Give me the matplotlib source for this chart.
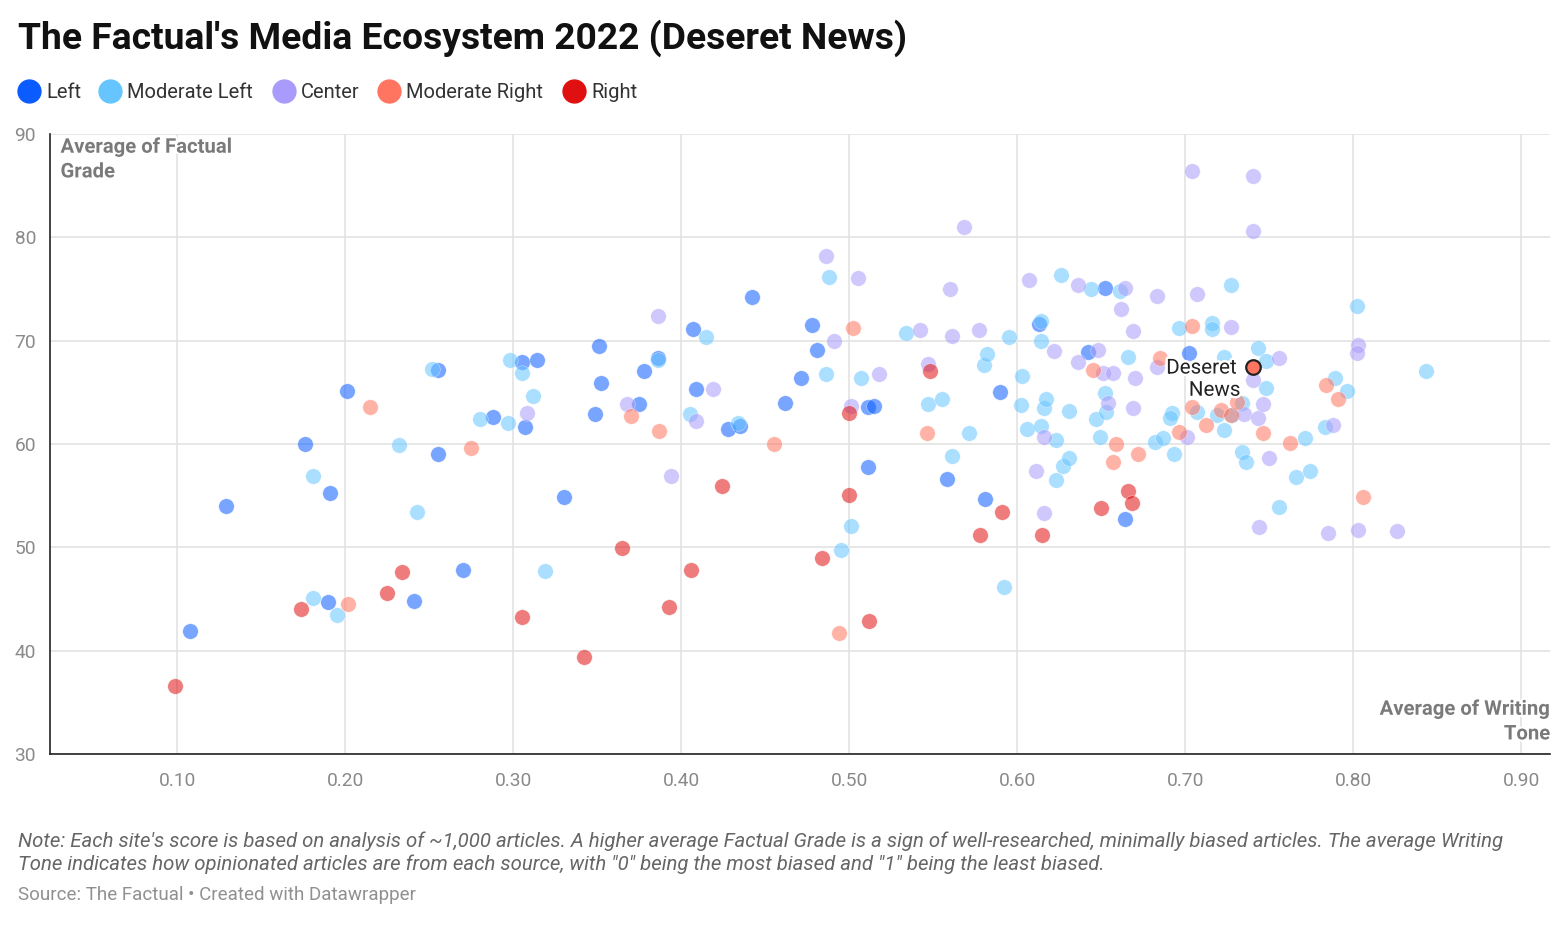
import matplotlib
matplotlib.use("Agg")
import matplotlib.pyplot as plt
import matplotlib.patheffects as pe
from matplotlib.lines import Line2D

plt.rcParams['font.family'] = ['Roboto', 'DejaVu Sans']

# ---------------- data ----------------
categories = ["Left", "Moderate Left", "Center", "Moderate Right", "Right"]
colors = ["#0a5cff", "#66c5ff", "#a99bfb", "#ff7560", "#e01010"]

left_x = [0.129, 0.108, 0.176, 0.191, 0.201, 0.190, 0.241, 0.255, 0.255, 0.270,
          0.288, 0.305, 0.314, 0.307, 0.330, 0.351, 0.352, 0.349, 0.378, 0.386,
          0.375, 0.407, 0.409, 0.442, 0.428, 0.435, 0.478, 0.481, 0.471, 0.462,
          0.511, 0.515, 0.511, 0.558, 0.581, 0.590, 0.613, 0.642, 0.652, 0.664,
          0.702]
left_y = [54.0, 41.9, 60.0, 55.3, 65.1, 44.7, 44.8, 59.0, 67.2, 47.8,
          62.6, 67.9, 68.1, 61.6, 54.9, 69.5, 65.9, 62.9, 67.1, 68.3,
          63.9, 71.1, 65.3, 74.2, 61.5, 61.7, 71.5, 69.1, 66.4, 64.0,
          63.6, 63.7, 57.8, 56.6, 54.7, 65.0, 71.6, 68.9, 75.1, 52.7,
          68.8]

modleft_x = [0.181, 0.232, 0.243, 0.181, 0.195, 0.252, 0.280, 0.297, 0.298, 0.305,
             0.312, 0.319, 0.405, 0.415, 0.486, 0.488, 0.507, 0.501, 0.495, 0.534,
             0.547, 0.555, 0.571, 0.561, 0.580, 0.582, 0.595, 0.592, 0.603, 0.602,
             0.606, 0.614, 0.614, 0.616, 0.617, 0.614, 0.623, 0.623, 0.627, 0.631,
             0.631, 0.626, 0.644, 0.661, 0.647, 0.649, 0.652, 0.653, 0.666, 0.682,
             0.687, 0.692, 0.691, 0.693, 0.696, 0.707, 0.716, 0.716, 0.727, 0.723,
             0.719, 0.723, 0.728, 0.734, 0.734, 0.736, 0.743, 0.748, 0.748, 0.756,
             0.766, 0.774, 0.771, 0.783, 0.789, 0.796, 0.802, 0.843, 0.386, 0.434]
modleft_y = [56.9, 59.9, 53.4, 45.1, 43.5, 67.3, 62.4, 62.0, 68.1, 66.9,
             64.6, 47.7, 62.9, 70.4, 66.8, 76.2, 66.4, 52.1, 49.7, 70.7,
             63.9, 64.4, 61.1, 58.8, 67.6, 68.7, 70.4, 46.2, 66.6, 63.8,
             61.5, 70.0, 71.9, 63.5, 64.4, 61.7, 60.4, 56.5, 57.9, 58.6,
             63.2, 76.4, 75.0, 74.8, 62.4, 60.7, 64.9, 63.1, 68.4, 60.2,
             60.6, 63.0, 62.5, 59.0, 71.2, 63.1, 71.7, 71.1, 75.4, 68.4,
             62.8, 61.4, 62.8, 64.0, 59.2, 58.3, 69.3, 68.0, 65.4, 53.9,
             56.8, 57.4, 60.6, 61.6, 66.4, 65.1, 73.4, 67.1, 68.1, 62.0]

center_x = [0.308, 0.386, 0.368, 0.394, 0.409, 0.419, 0.486, 0.491, 0.501, 0.505,
            0.518, 0.542, 0.547, 0.560, 0.568, 0.561, 0.577, 0.607, 0.611, 0.616,
            0.616, 0.622, 0.636, 0.636, 0.648, 0.651, 0.654, 0.657, 0.662, 0.664,
            0.669, 0.670, 0.669, 0.683, 0.683, 0.704, 0.707, 0.727, 0.735, 0.740,
            0.740, 0.740, 0.743, 0.746, 0.750, 0.744, 0.756, 0.788, 0.803, 0.802,
            0.785, 0.803, 0.826, 0.701]
center_y = [63.0, 72.4, 63.9, 56.9, 62.2, 65.3, 78.2, 70.0, 63.7, 76.1,
            66.8, 71.0, 67.7, 75.0, 81.0, 70.5, 71.0, 75.9, 57.4, 53.3,
            60.7, 69.0, 75.4, 67.9, 69.1, 66.9, 64.0, 66.9, 73.1, 75.1,
            70.9, 66.4, 63.5, 74.3, 67.5, 86.4, 74.5, 71.3, 62.9, 85.9,
            80.6, 66.2, 62.5, 63.9, 58.6, 52.0, 68.3, 61.8, 69.6, 68.8,
            51.4, 51.7, 51.6, 60.7]

modright_x = [0.215, 0.275, 0.202, 0.370, 0.387, 0.455, 0.502, 0.494, 0.546, 0.645,
              0.659, 0.657, 0.672, 0.685, 0.696, 0.704, 0.704, 0.712, 0.721, 0.727,
              0.731, 0.746, 0.762, 0.784, 0.791, 0.806]
modright_y = [63.6, 59.6, 44.5, 62.7, 61.3, 60.0, 71.2, 41.7, 61.1, 67.2,
              60.0, 58.3, 59.0, 68.3, 61.2, 71.4, 63.6, 61.8, 63.3, 62.8,
              64.1, 61.1, 60.1, 65.7, 64.4, 54.9]

right_x = [0.099, 0.174, 0.225, 0.234, 0.305, 0.342, 0.365, 0.393, 0.406, 0.424,
           0.484, 0.500, 0.500, 0.512, 0.548, 0.578, 0.591, 0.615, 0.650, 0.666,
           0.668]
right_y = [36.6, 44.0, 45.6, 47.6, 43.3, 39.4, 49.9, 44.2, 47.8, 55.9,
           49.0, 55.1, 63.0, 42.9, 67.1, 51.2, 53.4, 51.2, 53.8, 55.5,
           54.3]

highlight_label = ["Deseret", "News"]
highlight_x = 0.740
highlight_y = 67.5

x_ticks = [0.10, 0.20, 0.30, 0.40, 0.50, 0.60, 0.70, 0.80, 0.90]
x_ticklabels = ["0.10", "0.20", "0.30", "0.40", "0.50", "0.60", "0.70", "0.80", "0.90"]
y_ticks = [30, 40, 50, 60, 70, 80, 90]

series = [(left_x, left_y), (modleft_x, modleft_y), (center_x, center_y),
          (modright_x, modright_y), (right_x, right_y)]

# ---------------- figure ----------------
W, H = 1568, 935
fig = plt.figure(figsize=(W / 100, H / 100), dpi=100)
ax = fig.add_axes([50 / W, 1 - 754 / H, 1500 / W, (754 - 134) / H])

for (xs, ys), c in zip(series, colors):
    ax.scatter(xs, ys, s=125, color=c, alpha=0.55, edgecolors='white',
               linewidths=0.4, zorder=3)

ax.scatter([highlight_x], [highlight_y], s=110, color=colors[3], alpha=1.0,
           edgecolors='#222222', linewidths=1.6, zorder=5)
halo = [pe.withStroke(linewidth=3.5, foreground='white')]
ax.text(highlight_x - 0.0095, highlight_y - 0.15, highlight_label[0], ha='right', va='center',
        fontsize=14.8, color='#222222', zorder=6, path_effects=halo)
ax.text(highlight_x - 0.0072, highlight_y - 2.3, highlight_label[1], ha='right', va='center',
        fontsize=14.8, color='#222222', zorder=6, path_effects=halo)

ax.set_xlim(0.0244, 0.917)
ax.set_ylim(30, 90)
ax.set_xticks(x_ticks)
ax.set_xticklabels(x_ticklabels)
ax.set_yticks(y_ticks)
ax.grid(True, color='#e3e3e3', linewidth=1.2, zorder=0)
ax.set_axisbelow(True)
for s in ['top', 'right']:
    ax.spines[s].set_visible(False)
for s in ['left', 'bottom']:
    ax.spines[s].set_color('#222222')
    ax.spines[s].set_linewidth(1.2)
ax.tick_params(axis='both', length=0, labelsize=13.8, labelcolor='#8a8a8a')
ax.tick_params(axis='x', pad=13)
ax.tick_params(axis='y', pad=10)

ax.text(0.007, 0.994, "Average of Factual\nGrade", transform=ax.transAxes,
        ha='left', va='top', fontsize=14.6, fontweight='bold', color='#7a7a7a',
        linespacing=1.38, zorder=7,
        path_effects=[pe.withStroke(linewidth=3, foreground='white')])
ax.text(1.0, 0.017, "Average of Writing\nTone", transform=ax.transAxes,
        ha='right', va='bottom', fontsize=14.6, fontweight='bold', color='#7a7a7a',
        linespacing=1.38, multialignment='right', zorder=7,
        path_effects=[pe.withStroke(linewidth=3, foreground='white')])

# title
fig.text(18 / W, 1 - 38 / H, "The Factual's Media Ecosystem 2022 (Deseret News)",
         ha='left', va='center', fontsize=26.8, fontweight='bold', color='#111111')

# legend
leg_x = [29, 110, 284, 389, 574]
for lx, cat, c in zip(leg_x, categories, colors):
    fig.add_artist(Line2D([lx / W], [1 - 91 / H], marker='o', markersize=16.5,
                          color=c, linestyle='None', transform=fig.transFigure))
    fig.text((lx + 17) / W, 1 - 92 / H, cat, ha='left', va='center',
             fontsize=14.5, color='#333333')

# notes
fig.text(18 / W, 1 - 853 / H,
         "Note: Each site's score is based on analysis of ~1,000 articles. A higher average Factual Grade is a sign of well-researched, minimally biased articles. The average Writing\n"
         "Tone indicates how opinionated articles are from each source, with \"0\" being the most biased and \"1\" being the least biased.",
         ha='left', va='center', fontsize=14.7, style='italic', color='#666666',
         linespacing=1.25)
fig.text(18 / W, 1 - 895 / H, "Source: The Factual \u2022 Created with Datawrapper",
         ha='left', va='center', fontsize=13.5, color='#909090')

fig.savefig("out.png", dpi=100, facecolor='white')
